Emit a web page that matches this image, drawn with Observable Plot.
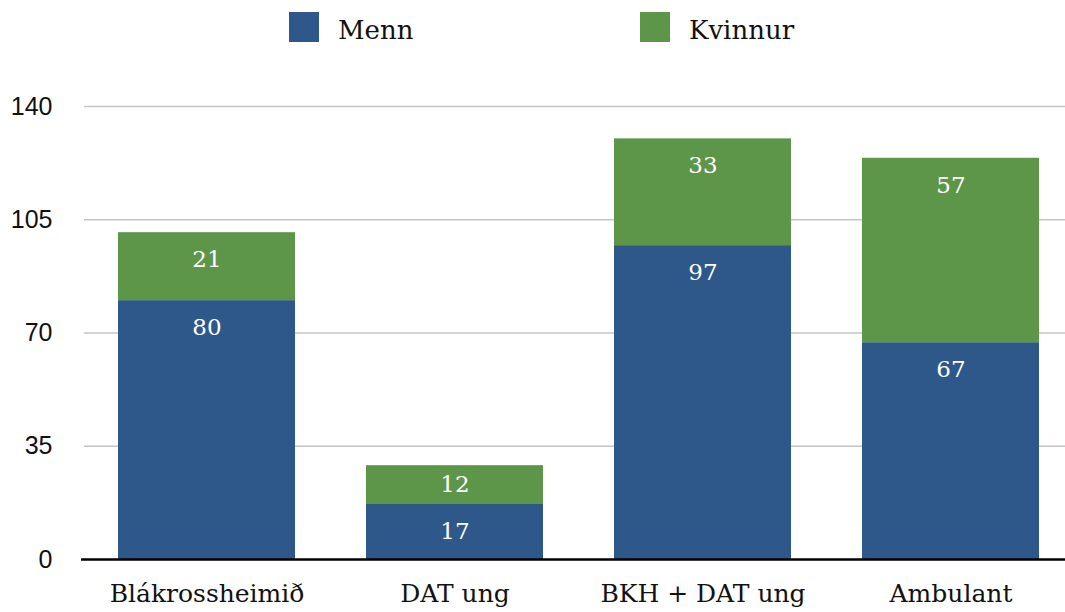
<!DOCTYPE html>
<html>
<head>
<meta charset="utf-8">
<script src="https://cdn.jsdelivr.net/npm/d3@7"></script>
<script src="https://cdn.jsdelivr.net/npm/@observablehq/plot@0.6"></script>
<style>
  html, body { margin: 0; padding: 0; background: #fff; }
  #wrap { width: 1065px; height: 612px; position: relative; overflow: hidden; }
  #legend { position: relative; width: 1065px; height: 60px; font-family: "DejaVu Serif", serif; font-size: 26px; color: #111; }
  .sw { position: absolute; top: 12px; width: 30px; height: 30px; }
  .lt { position: absolute; top: 13px; line-height: 34px; }
  svg { display: block; }
</style>
</head>
<body>
<div id="wrap">
  <div id="legend"></div>
  <div id="chart"></div>
</div>
<script>
const categories = ["Blákrossheimið", "DAT ung", "BKH + DAT ung", "Ambulant"];
const seriesNames = ["Menn", "Kvinnur"];
const menn = [80, 17, 97, 67];
const kvinnur = [21, 12, 33, 57];
const colors = ["#2e5889", "#5d9649"];
const yTicks = [0, 35, 70, 105, 140];

const data = [];
categories.forEach((c, i) => {
  data.push({cat: c, series: seriesNames[0], value: menn[i], base: 0});
  data.push({cat: c, series: seriesNames[1], value: kvinnur[i], base: menn[i]});
});
// label anchor: near the top of each segment, or its middle if the segment is short
const labelOffset = 8.4;
const labels = data.map(d => ({...d, ly: d.base + d.value - Math.min(labelOffset, d.value / 2)}));

// legend
const legend = document.getElementById("legend");
const legPos = [[289, 338], [640, 689]];
seriesNames.forEach((s, i) => {
  const sw = document.createElement("div");
  sw.className = "sw";
  sw.style.left = legPos[i][0] + "px";
  sw.style.background = colors[i];
  legend.appendChild(sw);
  const t = document.createElement("div");
  t.className = "lt";
  t.style.left = legPos[i][1] + "px";
  t.textContent = s;
  legend.appendChild(t);
});

const chart = Plot.plot({
  width: 1065,
  height: 552,
  marginLeft: 84,
  marginRight: 0,
  marginTop: 46,
  marginBottom: 53,
  x: {domain: categories, range: [82.5, 1074.5], padding: 0.286, paddingOuter: 0.143, label: null},
  y: {domain: [0, 140], ticks: yTicks, label: null},
  color: {domain: seriesNames, range: colors},
  marks: [
    Plot.ruleY(yTicks.filter(d => d > 0), {stroke: "#c4c4c4", strokeWidth: 1.5}),
    Plot.barY(data, {x: "cat", y: "value", z: "series", fill: "series", order: null}),
    Plot.ruleY([0], {stroke: "#000", strokeWidth: 2.4, insetLeft: -3}),
    Plot.text(labels, {
      x: "cat", y: "ly",
      text: d => String(d.value),
      fill: "#fff", fontSize: 23, fontFamily: "DejaVu Serif", lineAnchor: "middle"
    }),
    Plot.axisY({ticks: yTicks, tickSize: 0, tickPadding: 32, fontSize: 25, fontFamily: "Liberation Sans", fill: "#111", label: null}),
    Plot.axisX({tickSize: 0, tickPadding: 25, fontSize: 25, fontFamily: "DejaVu Serif", fill: "#111", label: null})
  ]
});
document.getElementById("chart").appendChild(chart);
</script>
</body>
</html>
